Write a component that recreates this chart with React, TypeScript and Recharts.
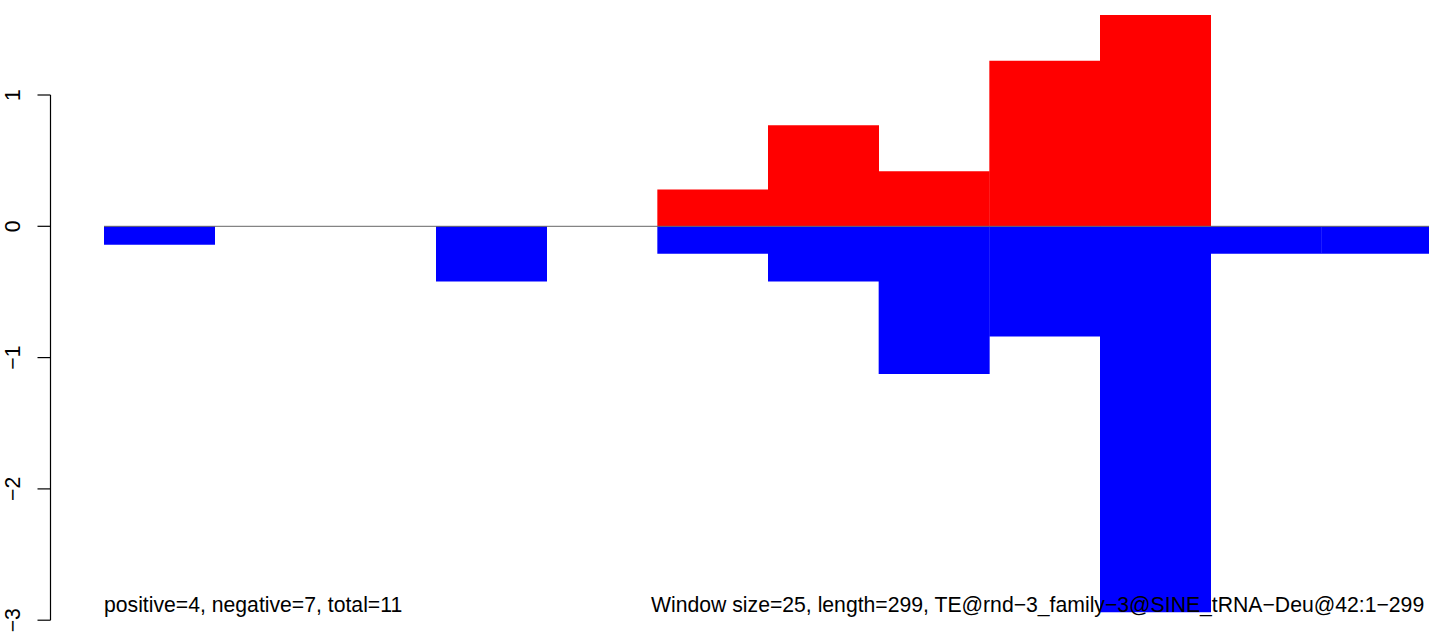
import React from 'react';
import { ComposedChart, Bar, XAxis, YAxis, ReferenceLine } from 'recharts';

// window index along the TE (length 299, window 25 -> 12 windows)
const windows = ['1', '2', '3', '4', '5', '6', '7', '8', '9', '10', '11', '12'];
const positive = [0, 0, 0, 0, 0, 0.28, 0.77, 0.42, 1.26, 1.61, 0, 0];
const negative = [-0.14, 0, 0, -0.42, 0, -0.21, -0.42, -1.125, -0.84, -2.94, -0.21, -0.21];
const yTicks = [-3, -2, -1, 0, 1];

const leftNote = 'positive=4, negative=7, total=11';
const rightNote = 'Window size=25, length=299, TE@rnd\u22123_family\u22123@SINE_tRNA\u2212Deu@42:1\u2212299';

const W = 1429;
const H = 634;
const PX = 131.3; // pixels per unit
const ZERO_Y = 226.3;
const FONT = '"Liberation Sans", Arial, sans-serif';
const FONT_SIZE = 21.2;

const data = windows.map((w, i) => ({ w, pos: positive[i], neg: negative[i] }));

const YTick = (props: any) => {
  const { x, y, payload } = props;
  const label = payload.value < 0 ? `\u2212${Math.abs(payload.value)}` : `${payload.value}`;
  const bx = x - 15.5;
  return (
    <text
      x={bx}
      y={y}
      transform={`rotate(-90 ${bx} ${y})`}
      textAnchor="middle"
      fontFamily={FONT}
      fontSize={FONT_SIZE}
      fill="#000"
    >
      {label}
    </text>
  );
};

export default function App() {
  const plotLeft = 104;
  const plotWidth = 1328;
  const chartWidth = 1440;

  return (
    <div style={{ position: 'absolute', left: 0, top: 0, width: W, height: H, overflow: 'hidden', background: '#fff' }}>
      <div style={{ position: 'absolute', left: 0, top: 0 }}>
        <ComposedChart
          width={chartWidth}
          height={H}
          data={data}
          stackOffset="sign"
          barCategoryGap={0}
          barGap={0}
          margin={{ top: 0, right: chartWidth - plotLeft - plotWidth, bottom: 0, left: plotLeft }}
        >
          <XAxis dataKey="w" hide />
          <YAxis
            hide
            type="number"
            scale="linear"
            allowDataOverflow
            domain={[(ZERO_Y - H) / PX, ZERO_Y / PX]}
          />
          <ReferenceLine y={0} stroke="#666" strokeWidth={1} />
          <Bar dataKey="pos" stackId="s" fill="#ff0000" isAnimationActive={false} />
          <Bar dataKey="neg" stackId="s" fill="#0000ff" isAnimationActive={false} />
        </ComposedChart>
      </div>
      <div style={{ position: 'absolute', left: 0, top: 0 }}>
        <ComposedChart
          width={W}
          height={H}
          data={data}
          margin={{ top: ZERO_Y - PX, right: 0, bottom: H - (ZERO_Y + 3 * PX), left: 0 }}
        >
          <XAxis dataKey="w" hide />
          <YAxis
            type="number"
            scale="linear"
            allowDataOverflow
            domain={[-3, 1]}
            ticks={yTicks}
            width={50.5}
            tickSize={13}
            tickMargin={2}
            axisLine={{ stroke: '#000', strokeWidth: 1.2 }}
            tickLine={{ stroke: '#000', strokeWidth: 1.2 }}
            tick={(p: any) => <YTick {...p} />}
          />
          <Bar dataKey="neg" fill="none" isAnimationActive={false} />
        </ComposedChart>
      </div>
      <svg width={W} height={H} style={{ position: 'absolute', left: 0, top: 0 }}>
        <text x={104} y={612} fontFamily={FONT} fontSize={FONT_SIZE} fill="#000">
          {leftNote}
        </text>
        <text x={651} y={612} fontFamily={FONT} fontSize={FONT_SIZE} fill="#000">
          {rightNote}
        </text>
      </svg>
    </div>
  );
}
